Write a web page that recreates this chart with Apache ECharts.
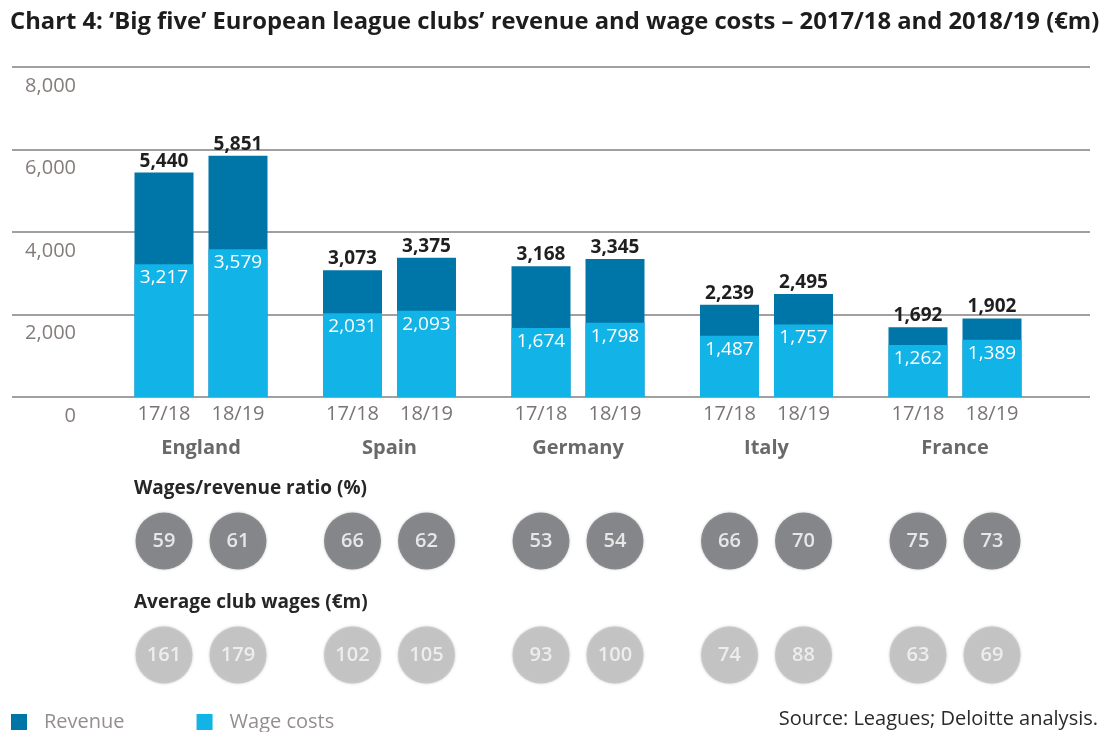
<!DOCTYPE html>
<html>
<head>
<meta charset="utf-8">
<script src="https://cdn.jsdelivr.net/npm/echarts@6/dist/echarts.min.js"></script>
<style>
html,body{margin:0;padding:0;background:#fff;}
#chart{width:1102px;height:732px;}
</style>
</head>
<body>
<div id="chart"></div>
<script>
const countries = ['England', 'Spain', 'Germany', 'Italy', 'France'];
const seasons = ['17/18', '18/19'];
const revenue1718 = [5440, 3073, 3168, 2239, 1692];
const revenue1819 = [5851, 3375, 3345, 2495, 1902];
const wages1718 = [3217, 2031, 1674, 1487, 1262];
const wages1819 = [3579, 2093, 1798, 1757, 1389];
const ratio1718 = [59, 66, 53, 66, 75];
const ratio1819 = [61, 62, 54, 70, 73];
const avgWage1718 = [161, 102, 93, 74, 63];
const avgWage1819 = [179, 105, 100, 88, 69];
const yMin = 0, yMax = 8000, yStep = 2000;

const FONT = 'Open Sans';
const DARK = '#0076a8';
const LIGHT = '#12b3e6';
const fmt = v => Number(v).toLocaleString('en-US');

const chart = echarts.init(document.getElementById('chart'), null, {renderer: 'canvas'});

const barW = 59, barGap = '25.4%';
const plotLeft = 106.75, plotWidth = 942.5;

function revSeries(data) {
  return {
    type: 'bar', name: 'Revenue', xAxisIndex: 1, yAxisIndex: 1,
    data: data, barWidth: barW, barGap: barGap,
    itemStyle: {color: DARK},
    label: {show: true, position: 'top', distance: 2, formatter: p => fmt(p.value),
      fontFamily: FONT, fontSize: 19, fontWeight: 'bold', color: '#1f1f1f'},
    silent: true
  };
}
function wageSeries(data) {
  return {
    type: 'bar', name: 'Wage costs', xAxisIndex: 2, yAxisIndex: 1,
    data: data, barWidth: barW, barGap: barGap,
    itemStyle: {color: LIGHT},
    label: {show: true, position: 'insideTop', distance: 4, formatter: p => fmt(p.value),
      fontFamily: FONT, fontSize: 19, color: '#ffffff'},
    silent: true
  };
}
function circleSeries(data, row, offset, color, textColor) {
  return {
    type: 'scatter', name: row, xAxisIndex: 3, yAxisIndex: 2,
    data: data.map((v, i) => [countries[i], row, v]),
    symbol: 'circle', symbolSize: 57, symbolOffset: [offset, 0],
    itemStyle: {color: color, shadowBlur: 3, shadowColor: 'rgba(0,0,0,0.25)'},
    label: {show: true, position: 'inside', formatter: p => p.value[2],
      fontFamily: FONT, fontSize: 20, fontWeight: 600, color: textColor},
    silent: true
  };
}

const option = {
  animation: false,
  backgroundColor: '#ffffff',
  grid: [
    {left: 12, right: 12, top: 67, height: 330},
    {left: plotLeft, width: plotWidth, top: 67, height: 330},
    {left: plotLeft, width: plotWidth, top: 484, height: 228}
  ],
  xAxis: [
    {type: 'value', gridIndex: 0, min: 0, max: 1, show: false},
    {type: 'category', gridIndex: 1, data: countries,
      axisLine: {show: false}, axisTick: {show: false},
      axisLabel: {
        margin: 2,
        formatter: v => `{y|${seasons[0]}}{y|${seasons[1]}}\n{c|${v}}`,
        rich: {
          y: {width: 74, align: 'center', fontFamily: FONT, fontSize: 20, color: '#7a7474', lineHeight: 30},
          c: {width: 148, align: 'center', fontFamily: FONT, fontSize: 20, fontWeight: 'bold', color: '#6b6868', lineHeight: 38}
        }
      }},
    {type: 'category', gridIndex: 1, data: countries, show: false},
    {type: 'category', gridIndex: 2, data: countries, show: false}
  ],
  yAxis: [
    {type: 'value', gridIndex: 0, min: yMin, max: yMax, interval: yStep,
      axisLine: {show: false}, axisTick: {show: false},
      splitLine: {show: true, lineStyle: {color: '#a0a0a0', width: 2}},
      axisLabel: {inside: true, margin: 64, align: 'right', verticalAlign: 'top',
        padding: [9, 0, 0, 0], formatter: v => fmt(v),
        fontFamily: FONT, fontSize: 20, color: '#847c7a'}},
    {type: 'value', gridIndex: 1, min: yMin, max: yMax, interval: yStep, show: false},
    {type: 'category', gridIndex: 2, data: ['ratio', 'avg'], inverse: true, show: false}
  ],
  legend: {
    data: ['Revenue', 'Wage costs'],
    left: 11, top: 712, padding: 0, icon: 'rect', itemWidth: 16, itemHeight: 16, itemGap: 72,
    selectedMode: false,
    textStyle: {fontFamily: FONT, fontSize: 20, color: '#958d90', padding: [0, 0, 0, 12]}
  },
  graphic: [
    {type: 'text', left: 10, top: 10, silent: true,
      style: {text: 'Chart 4: \u2018Big five\u2019 European league clubs\u2019 revenue and wage costs \u2013 2017/18 and 2018/19 (\u20acm)',
        font: 'bold 23.8px "Open Sans"', fill: '#1d1d1d'}},
    {type: 'text', left: 134, top: 479, silent: true,
      style: {text: 'Wages/revenue ratio (%)', font: 'bold 19px "Open Sans"', fill: '#262626'}},
    {type: 'text', left: 134, top: 593, silent: true,
      style: {text: 'Average club wages (\u20acm)', font: 'bold 19px "Open Sans"', fill: '#262626'}},
    {type: 'text', right: 4, top: 709, silent: true,
      style: {text: 'Source: Leagues; Deloitte analysis.', font: '20px "Open Sans"', fill: '#2a2a2a'}}
  ],
  series: [
    revSeries(revenue1718), revSeries(revenue1819),
    wageSeries(wages1718), wageSeries(wages1819),
    circleSeries(ratio1718, 'ratio', -37, '#737478', '#ffffff'),
    circleSeries(ratio1819, 'ratio', 37, '#737478', '#ffffff'),
    circleSeries(avgWage1718, 'avg', -37, '#c0c0c0', '#f7f7f7'),
    circleSeries(avgWage1819, 'avg', 37, '#c0c0c0', '#f7f7f7')
  ]
};
chart.setOption(option);
</script>
</body>
</html>
